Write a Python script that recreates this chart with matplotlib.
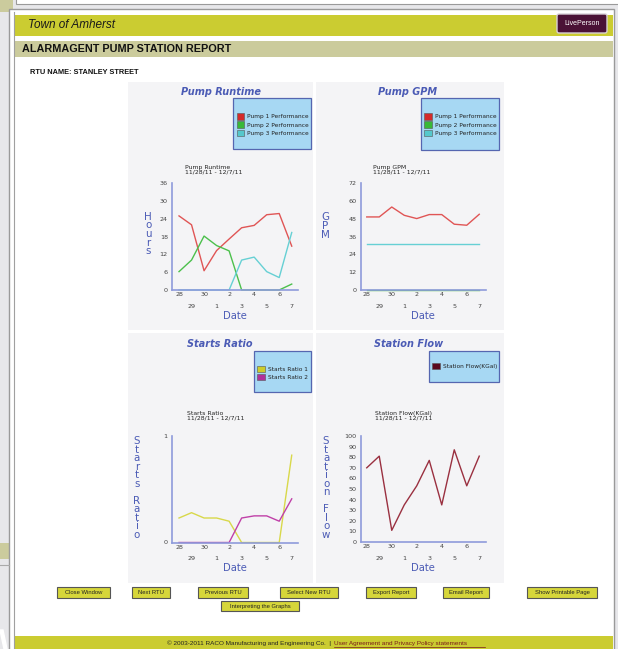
import matplotlib
matplotlib.use("Agg")
import matplotlib.pyplot as plt
from matplotlib.patches import Rectangle, FancyBboxPatch, Patch

# data
dates = ["28", "29", "30", "1", "2", "3", "4", "5", "6", "7"]
pump1_runtime = [25, 22, 6.5, 13.3, 17.2, 21, 21.8, 25.4, 25.8, 14.8]
pump2_runtime = [6.2, 10.1, 18.2, 15, 13.2, 0, 0, 0, 0, 2]
pump3_runtime = [0, 0, 0, 0, 0, 10.1, 11.1, 6.2, 4.2, 19.4]
pump1_gpm = [49.3, 49.3, 56, 50.4, 48.2, 50.9, 50.9, 44.4, 43.7, 51.1]
pump2_gpm = [0, 0, 0, 0, 0, 0, 0, 0, 0, 0]
pump3_gpm = [31, 31, 31, 31, 31, 31, 31, 31, 31, 31]
starts_ratio1 = [0.23, 0.28, 0.23, 0.23, 0.20, 0, 0, 0, 0, 0.82]
starts_ratio2 = [0, 0, 0, 0, 0, 0.23, 0.25, 0.25, 0.20, 0.41]
station_flow = [70, 81, 11, 35, 53, 77, 35, 87, 53, 81]

buttons = ["Close Window", "Next RTU", "Previous RTU", "Select New RTU",
           "Export Report", "Email Report", "Show Printable Page",
           "Interpreting the Graphs"]

W, H = 618, 649
BLUE = "#4b5bb5"
AXBLUE = "#8e9bdb"

fig = plt.figure(figsize=(W / 100, H / 100), dpi=100)
fig.patch.set_facecolor("#e7e7ea")

# page background, drawn in pixel coords
bg = fig.add_axes([0, 0, 1, 1])
bg.set_xlim(0, W)
bg.set_ylim(H, 0)
bg.axis("off")


def box(x0, y0, x1, y1, fc, ec="none", lw=0, z=1):
    bg.add_patch(Rectangle((x0, y0), x1 - x0, y1 - y0, facecolor=fc,
                           edgecolor=ec, linewidth=lw, zorder=z))


# window behind
box(0, 0, 13, 12, "#cbcb9d")
box(16, -2, W + 2, 4, "white", "#9a9a9a", 0.8)
box(0, 543, 9, 559, "#cbcb9d")
bg.plot([0, 9], [565, 565], color="#aaaaaa", lw=0.8)
bg.fill([0, 3, 7, 4], [630, 630, 649, 649], color="white", zorder=1)
# main window
box(9, 9, 614, H + 5, "white", "#9a9a9a", 1.0)
bg.plot([14, 14], [12, H], color="#a0a0a0", lw=0.8)
box(14, 15, 613, 36, "#cbcc31")
box(14, 41, 613, 57, "#cbcb9c")
bg.text(28, 25.5, "Town of Amherst", fontsize=8.5, style="italic",
        family="Liberation Sans", color="#1a1a1a", va="center")
bg.text(22, 49, "ALARMAGENT PUMP STATION REPORT", fontsize=7.8,
        weight="bold", family="Liberation Sans", color="#111111", va="center")
bg.text(30, 72, "RTU NAME: STANLEY STREET", fontsize=5.3, weight="bold",
        family="Liberation Sans", color="#111111", va="center")
bg.add_patch(FancyBboxPatch((557, 14), 50, 19, boxstyle="round,pad=0,rounding_size=2",
                            facecolor="#4a1236", edgecolor="#d8d0d8", lw=1, zorder=3))
bg.text(582, 23.5, "LivePerson", fontsize=5, color="white",
        family="Liberation Sans", ha="center", va="center", zorder=4)

# chart panels
for (x0, y0, x1, y1) in [(128, 82, 313, 330), (316, 82, 504, 330),
                         (128, 333, 313, 583), (316, 333, 504, 583)]:
    box(x0, y0, x1, y1, "#f4f4f6")

# buttons
btn_boxes = [(57, 587, 110, 598), (132, 587, 170, 598), (198, 587, 248, 598),
             (280, 587, 338, 598), (366, 587, 416, 598), (443, 587, 489, 598),
             (527, 587, 597, 598), (221, 601, 299, 611)]
for label, (x0, y0, x1, y1) in zip(buttons, btn_boxes):
    box(x0, y0, x1, y1, "#d6d63a", "#555555", 0.8)
    bg.text((x0 + x1) / 2, (y0 + y1) / 2 + 0.3, label, fontsize=4.2,
            family="Liberation Sans", color="#222222", ha="center", va="center",
            zorder=3)

# footer
box(14, 636, 613, H + 2, "#cbcc31")
bg.text(331, 643, "\u00a9 2003-2011 RACO Manufacturing and Engineering Co.  |",
        fontsize=4.6, family="Liberation Sans", color="#222222",
        ha="right", va="center", zorder=3)
bg.text(334, 643, "User Agreement and Privacy Policy statements", fontsize=4.6,
        family="Liberation Sans", color="#7a1a1a", ha="left", va="center", zorder=3)
bg.plot([334, 485], [647, 647], color="#7a1a1a", lw=0.5, zorder=3)


def make_chart(px, title, title_xy, subtitle, sub_xy, ylabel, ylab_xy, ylab_ls,
               series, colors, labels, legbox, leg_xy, yticks, xlim, date_xy,
               swatch_colors):
    x0, y0, x1, y1 = px
    ax = fig.add_axes([x0 / W, 1 - y1 / H, (x1 - x0) / W, (y1 - y0) / H])
    ax.set_facecolor("none")
    idx = list(range(len(dates)))
    for vals, c in zip(series, colors):
        ax.plot(idx, vals, color=c, lw=1.0, clip_on=False)
    ax.set_xlim(*xlim)
    ax.set_ylim(yticks[0], yticks[-1])
    ax.set_yticks(yticks)
    ax.set_yticklabels([str(t) for t in yticks])
    ax.set_xticks(idx[0::2])
    ax.set_xticklabels(dates[0::2])
    ax.set_xticks(idx[1::2], minor=True)
    ax.set_xticklabels(dates[1::2], minor=True)
    ax.tick_params(which="both", length=0, labelsize=4.6, labelcolor="#444444")
    ax.tick_params(axis="y", pad=3)
    ax.tick_params(axis="x", which="major", pad=1.5)
    ax.tick_params(axis="x", which="minor", pad=10)
    for s in ["top", "right"]:
        ax.spines[s].set_visible(False)
    for s in ["left", "bottom"]:
        ax.spines[s].set_color(AXBLUE)
        ax.spines[s].set_linewidth(1.2)

    bg.text(title_xy[0], title_xy[1], title, fontsize=7, weight="bold",
            style="italic", color=BLUE, ha="center", va="center")
    bg.text(sub_xy[0], sub_xy[1], subtitle, fontsize=4.4, color="#222222",
            ha="left", va="top", linespacing=0.95)
    bg.text(ylab_xy[0], ylab_xy[1], "\n".join(ylabel), fontsize=7.4,
            color=BLUE, ha="center", va="center", linespacing=ylab_ls)
    bg.text(date_xy[0], date_xy[1], "Date", fontsize=7.2, color=BLUE,
            ha="center", va="center")

    lx0, ly0, lx1, ly1 = legbox
    box(lx0, ly0, lx1, ly1, "#a7d8f3", "#5566b0", 0.9, z=2)
    handles = [Patch(facecolor=c, edgecolor="#555555", lw=0.4, label=l)
               for c, l in zip(swatch_colors, labels)]
    leg = ax.legend(handles=handles, loc="upper left",
                    bbox_to_anchor=(leg_xy[0] / W, 1 - leg_xy[1] / H),
                    bbox_transform=fig.transFigure, frameon=False,
                    fontsize=4.2, handlelength=1.35, handleheight=1.35,
                    handletextpad=0.45, labelspacing=0.32, borderpad=0,
                    borderaxespad=0)
    for t in leg.get_texts():
        t.set_color("#222222")
    return ax


make_chart((172, 183.3, 298, 290), "Pump Runtime", (221, 92),
           "Pump Runtime\n11/28/11 - 12/7/11", (185, 165),
           "Hours", (148, 234), 0.84,
           [pump1_runtime, pump2_runtime, pump3_runtime],
           ["#e05555", "#4cc04c", "#66d0d4"],
           ["Pump 1 Performance", "Pump 2 Performance", "Pump 3 Performance"],
           (233, 98, 311, 149), (236.5, 113), [0, 6, 12, 18, 24, 30, 36],
           (-0.56, 9.5), (235, 316), ["#d42a2a", "#38b838", "#55c8cc"])

make_chart((361, 183.3, 486, 290), "Pump GPM", (408, 92),
           "Pump GPM\n11/28/11 - 12/7/11", (373, 165),
           "GPM", (325, 226), 0.84,
           [pump1_gpm, pump2_gpm, pump3_gpm],
           ["#e05555", "#4cc04c", "#66d0d4"],
           ["Pump 1 Performance", "Pump 2 Performance", "Pump 3 Performance"],
           (421, 98, 499, 150), (424.3, 113), [0, 12, 24, 36, 48, 60, 72],
           (-0.46, 9.54), (423, 316), ["#d42a2a", "#38b838", "#55c8cc"])

make_chart((172, 436, 298, 542.5), "Starts Ratio", (220, 344),
           "Starts Ratio\n11/28/11 - 12/7/11", (187, 411),
           "Starts Ratio", (137, 488), 0.81,
           [starts_ratio1, starts_ratio2],
           ["#d8d84a", "#c040a8"],
           ["Starts Ratio 1", "Starts Ratio 2"],
           (254, 351, 311, 392), (257.3, 365.5), [0, 1],
           (-0.56, 9.5), (235, 568), ["#cccc2a", "#b0309a"])

make_chart((361, 436, 486, 542), "Station Flow", (409, 344),
           "Station Flow(KGal)\n11/28/11 - 12/7/11", (375, 411),
           "Station Flow", (326, 488), 0.81,
           [station_flow],
           ["#9a3040"],
           ["Station Flow(KGal)"],
           (429, 351, 499, 382), (432.3, 362.5),
           [0, 10, 20, 30, 40, 50, 60, 70, 80, 90, 100],
           (-0.46, 9.54), (423, 568), ["#5a0a1e"])

fig.savefig("out.png", dpi=100, facecolor=fig.get_facecolor())
